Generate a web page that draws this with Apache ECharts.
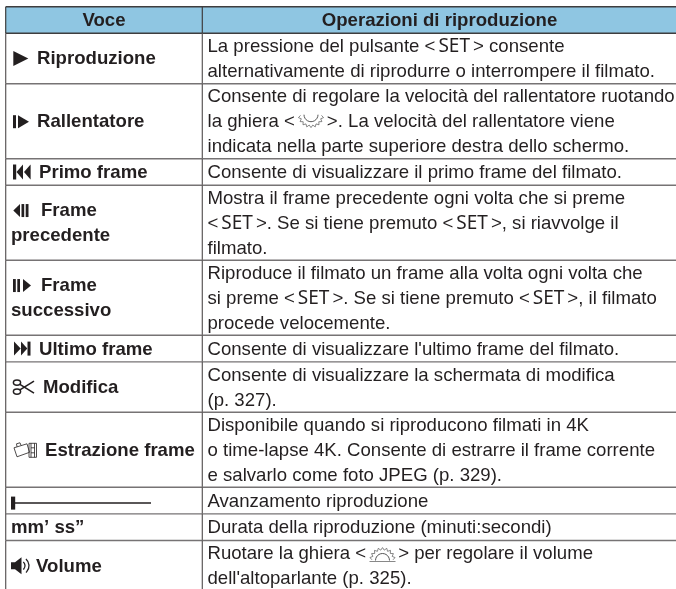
<!DOCTYPE html>
<html>
<head>
<meta charset="utf-8">
<style>
html, body { margin: 0; padding: 0; background: #fff; }
#main { width: 676px; height: 589px; }
</style>
<script src="https://cdn.jsdelivr.net/npm/echarts@6/dist/echarts.min.js"></script>
</head>
<body>
<div id="main"></div>
<script>
const headers = ["Voce", "Operazioni di riproduzione"];

const rowIcons = ["play", "slow", "first", "prev", "next", "last", "scissors", "extract", "progress", "", "volume"];

const rowLabels = [
	["Riproduzione"],
	["Rallentatore"],
	["Primo frame"],
	["Frame", "precedente"],
	["Frame", "successivo"],
	["Ultimo frame"],
	["Modifica"],
	["Estrazione frame"],
	[],
	["mm’ ss”"],
	["Volume"],
];

const rowTexts = [
	["La pressione del pulsante <SET> consente", "alternativamente di riprodurre o interrompere il filmato."],
	["Consente di regolare la velocità del rallentatore ruotando", "la ghiera <DIAL>. La velocità del rallentatore viene", "indicata nella parte superiore destra dello schermo."],
	["Consente di visualizzare il primo frame del filmato."],
	["Mostra il frame precedente ogni volta che si preme", "<SET>. Se si tiene premuto <SET>, si riavvolge il", "filmato."],
	["Riproduce il filmato un frame alla volta ogni volta che", "si preme <SET>. Se si tiene premuto <SET>, il filmato", "procede velocemente."],
	["Consente di visualizzare l'ultimo frame del filmato."],
	["Consente di visualizzare la schermata di modifica", "(p. 327)."],
	["Disponibile quando si riproducono filmati in 4K", "o time-lapse 4K. Consente di estrarre il frame corrente", "e salvarlo come foto JPEG (p. 329)."],
	["Avanzamento riproduzione"],
	["Durata della riproduzione (minuti:secondi)"],
	["Ruotare la ghiera <DIAL> per regolare il volume", "dell'altoparlante (p. 325)."],
];

// ---- layout ----
const W = 676, H = 589;
const TABLE_TOP = 6.7, TABLE_LEFT = 5.7, COL_X = 202.3;
const ROW_H = { 1: 26.6, 2: 50.4, 3: 75 };
const LINE_H = 25, LABEL_LINE_H = 24.5;
const FONT_SIZE = 18.6, TEXT_DY = 0.8;
const FONT = '"Liberation Sans", Arial, sans-serif';
const INK = "#231f20";
const LABEL_X = { play: 37, slow: 37, first: 39, last: 39, prev: 41, next: 41, scissors: 43, extract: 45, volume: 36 };

let rowTops = [TABLE_TOP + ROW_H[1]];
rowTexts.forEach((t) => rowTops.push(rowTops[rowTops.length - 1] + ROW_H[t.length]));

function poly(points) {
	return { type: "polygon", shape: { points: points }, style: { fill: INK } };
}
function bar(x0, x1, y0, y1) {
	return { type: "rect", shape: { x: x0, y: y0, width: x1 - x0, height: y1 - y0 }, style: { fill: INK } };
}
function stroke(points, w, color) {
	return { type: "polyline", shape: { points: points }, style: { stroke: color || INK, lineWidth: w, fill: null } };
}
function oval(cx, cy, rx, ry, w) {
	return { type: "ellipse", shape: { cx: cx, cy: cy, rx: rx, ry: ry }, style: { stroke: INK, lineWidth: w, fill: null } };
}
function arc(cx, cy, r, a0, a1, w) {
	return { type: "arc", shape: { cx: cx, cy: cy, r: r, startAngle: a0, endAngle: a1 }, style: { stroke: INK, lineWidth: w, fill: null } };
}

// little gear teeth round an arc, used by both dials
function teeth(cx, cy, r, a0, a1, n) {
	let pts = [];
	for (let i = 0; i <= n * 2; i++) {
		const a = a0 + ((a1 - a0) * i) / (n * 2);
		const rr = r + (i % 2 ? 2.4 : 0);
		pts.push([cx + rr * Math.cos(a), cy + rr * Math.sin(a)]);
	}
	return pts;
}

function icon(name, c) {
	switch (name) {
		case "play":
			return [poly([[13.3, c - 7.5], [28.3, c], [13.3, c + 7.5]])];
		case "slow":
			return [bar(13, 16, c - 6, c + 7), poly([[18, c - 6], [29, c + 0.5], [18, c + 7]])];
		case "first":
			return [bar(13, 16.2, c - 7.5, c + 7.5), poly([[23, c - 7.5], [16.5, c], [23, c + 7.5]]), poly([[30.6, c - 7.5], [24, c], [30.6, c + 7.5]])];
		case "prev":
			return [poly([[20, c - 6.5], [13.3, c], [20, c + 6.5]]), bar(21.5, 24.2, c - 6.5, c + 6.5), bar(25.7, 28.5, c - 6.5, c + 6.5)];
		case "next":
			return [bar(13, 15.8, c - 6.5, c + 6.5), bar(17.3, 20, c - 6.5, c + 6.5), poly([[23, c - 6.5], [31, c], [23, c + 6.5]])];
		case "last":
			return [poly([[14, c - 7], [20.7, c], [14, c + 7]]), poly([[21, c - 7], [27.3, c], [21, c + 7]]), bar(27.5, 30.5, c - 7, c + 7)];
		case "scissors":
			return [
				oval(17, c - 4.5, 3.6, 2.6, 1.5),
				oval(17, c + 4.5, 3.6, 2.6, 1.5),
				stroke([[19.5, c - 3], [34, c + 6]], 1.6),
				stroke([[19.5, c + 3], [34, c - 6]], 1.6),
			];
		case "extract":
			return [
				stroke([[14, c - 2], [27, c - 6], [29.5, c + 2.5], [17, c + 7], [14, c - 2]], 0.8),
				stroke([[17, c - 3], [16.5, c - 6], [20, c - 7], [21, c - 4.5]], 0.8),
				stroke([[29, c - 6.5], [36.5, c - 6.5], [36.5, c + 7.5], [29, c + 7.5], [29, c - 6.5]], 0.8),
				stroke([[31, c - 6.5], [31, c + 7.5]], 0.8),
				stroke([[34.5, c - 6.5], [34.5, c + 7.5]], 0.8),
				stroke([[31, c - 2], [34.5, c - 2]], 0.8),
				stroke([[31, c + 3], [34.5, c + 3]], 0.8),
			];
		case "progress":
			return [bar(11, 15.2, c - 6.5, c + 6.5), stroke([[15, c], [151, c]], 1.5)];
		case "volume":
			return [
				poly([[11, c - 3.5], [15, c - 3.5], [21.5, c - 8.5], [21.5, c + 8.5], [15, c + 3.5], [11, c + 3.5]]),
				arc(20, c, 5, -0.85, 0.85, 1.3),
				arc(20, c, 9, -0.85, 0.85, 1.3),
			];
	}
	return [];
}

// the two dial glyphs sit in the gaps left in their text lines
function dialDown(cx, cy) {
	return [
		stroke(teeth(cx, cy, 10.5, Math.PI * 0.02, Math.PI * 0.98, 9), 0.7, "#555"),
		stroke(teeth(cx, cy, 7, 0, Math.PI, 12).filter((p, i) => i % 2 === 0), 0.9, "#444"),
	];
}
function dialUp(cx, cy) {
	return [
		stroke(teeth(cx, cy, 10.5, -Math.PI * 0.98, -Math.PI * 0.02, 9), 0.7, "#555"),
		stroke(teeth(cx, cy, 7, -Math.PI, 0, 12).filter((p, i) => i % 2 === 0), 0.9, "#444"),
		stroke([[cx - 13, cy + 1], [cx + 13, cy + 1]], 0.7, "#555"),
	];
}

function richLine(line) {
	return line.replace(/SET/g, "{set|SET}").replace(/DIAL/g, "{dial| }");
}

const RICH = {
	set: { fontFamily: '"Noto Sans"', fontSize: 19, fill: INK, padding: [0, 3, 0, 3] },
	dial: { width: 32, fontSize: 17 },
};

function textEl(text, x, y, size, weight, align) {
	return {
		type: "text",
		style: {
			text: text, x: x, y: y + TEXT_DY, fill: INK,
			fontFamily: FONT, fontSize: size, fontWeight: weight,
			align: align || "left", textAlign: align || "left",
			verticalAlign: "middle", textVerticalAlign: "middle",
			rich: RICH,
		},
	};
}

function line(x0, y0, x1, y1, w, color) {
	return { type: "line", shape: { x1: x0, y1: y0, x2: x1, y2: y1 }, style: { stroke: color, lineWidth: w } };
}

function renderRow(params, api) {
	const i = api.value(0);
	const top = api.coord([0, i < 0 ? TABLE_TOP : rowTops[i]])[1];
	let kids = [];
	if (i < 0) {
		const h = ROW_H[1];
		kids.push({ type: "rect", shape: { x: TABLE_LEFT, y: 0, width: W, height: h }, style: { fill: "#8fc6e2" } });
		kids.push(line(TABLE_LEFT, 0, W, 0, 1.4, "#3f3d3e"));
		kids.push(line(TABLE_LEFT, h, W, h, 1.4, "#3f3d3e"));
		kids.push(line(TABLE_LEFT, 0, TABLE_LEFT, h, 1.2, "#3f3d3e"));
		kids.push(line(COL_X, 0, COL_X, h, 1.2, "#3f3d3e"));
		kids.push(textEl(headers[0], 104, h / 2, FONT_SIZE, "bold", "center"));
		kids.push(textEl(headers[1], 439.5, h / 2, FONT_SIZE, "bold", "center"));
		return { type: "group", y: top, children: kids };
	}
	const texts = rowTexts[i];
	const labels = rowLabels[i];
	const h = ROW_H[texts.length];
	const mid = h / 2;
	kids.push(line(TABLE_LEFT, 0, TABLE_LEFT, h, 1.2, "#5c5859"));
	kids.push(line(COL_X, 0, COL_X, h, 1.2, "#5c5859"));
	if (top + h < H) kids.push(line(TABLE_LEFT, h, W, h, 1.4, "#767374"));

	texts.forEach((t, k) => {
		kids.push(textEl(richLine(t), 207.5, mid + (k - (texts.length - 1) / 2) * LINE_H, FONT_SIZE, "normal"));
	});

	const name = rowIcons[i];
	const firstY = mid - ((labels.length - 1) / 2) * LABEL_LINE_H;
	labels.forEach((t, k) => {
		const x = k === 0 && LABEL_X[name] ? LABEL_X[name] : 11;
		kids.push(textEl(t, x, firstY + k * LABEL_LINE_H, FONT_SIZE, "bold"));
	});
	kids = kids.concat(icon(name, name === "progress" ? mid + 2.5 : firstY));

	if (texts.some((t) => t.indexOf("DIAL") >= 0)) {
		kids = kids.concat(name === "slow" ? dialDown(311, 31) : dialUp(382.5, 20));
	}
	return { type: "group", y: top, children: kids };
}

var chart = echarts.init(document.getElementById("main"));
var option = {
	animation: false,
	grid: { left: 0, right: 0, top: 0, bottom: 0 },
	xAxis: { type: "value", min: 0, max: W, show: false },
	yAxis: { type: "value", min: 0, max: H, inverse: true, show: false },
	series: [
		{
			type: "custom",
			silent: true,
			clip: false,
			renderItem: renderRow,
			data: [-1].concat(rowTexts.map((t, i) => i)).map((i) => [i]),
			encode: { x: -1, y: -1 },
		},
	],
};
chart.setOption(option);
</script>
</body>
</html>
